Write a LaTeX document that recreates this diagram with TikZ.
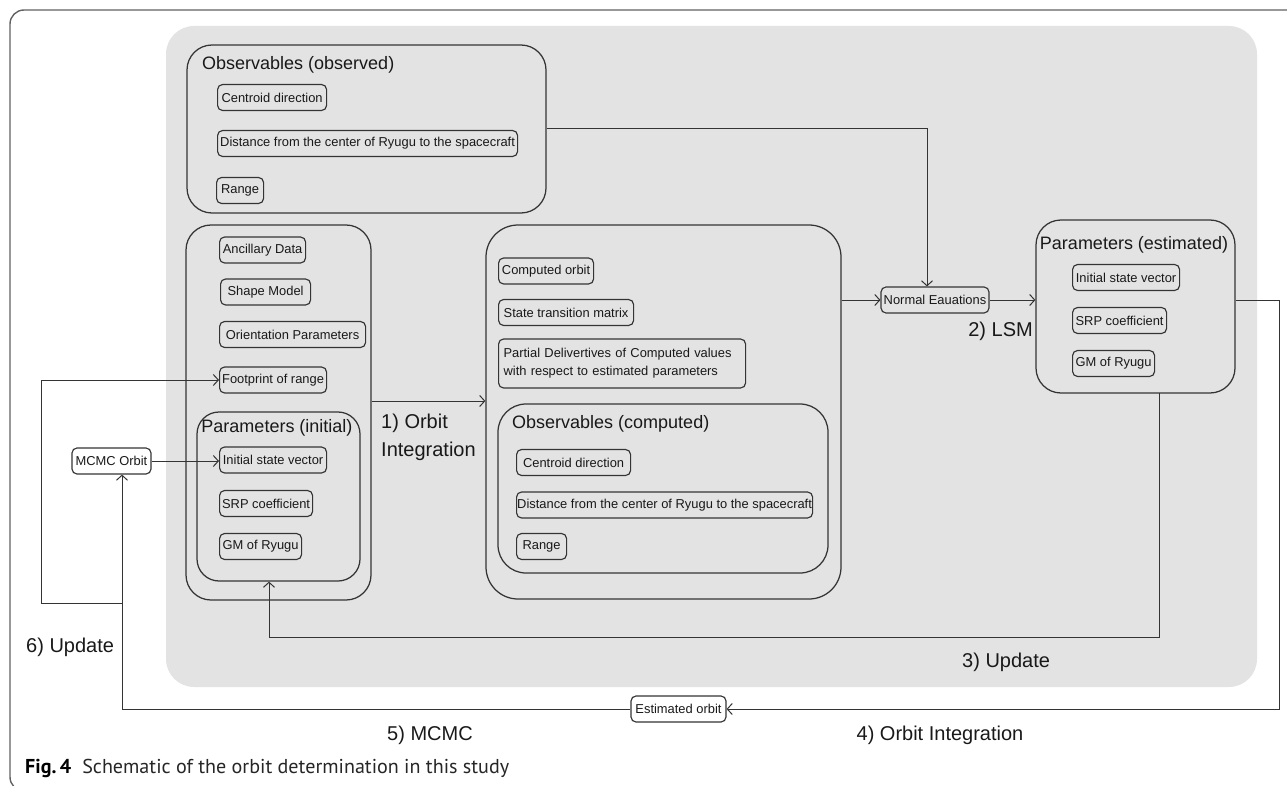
\documentclass[tikz,border=0pt]{standalone}
\usepackage{fontspec}
\setmainfont{Liberation Sans}
\newfontfamily\capfont{PT Sans}
\usetikzlibrary{arrows.meta}
\definecolor{bggrey}{RGB}{226,227,226}
\definecolor{lncol}{RGB}{52,52,52}
\definecolor{txtcol}{RGB}{25,25,25}
\begin{document}
\begin{tikzpicture}[x=1pt,y=-1pt,
 box/.style={draw=lncol, line width=1.15pt, rounded corners=5pt, anchor=west, minimum height=26pt, inner sep=0pt, font=\fontsize{12.9}{14}\selectfont, text=txtcol},
 cont/.style={draw=lncol, line width=1.25pt, inner sep=0pt},
 ttl/.style={font=\fontsize{18}{21}\selectfont, text=txtcol, inner sep=0pt},
 stp/.style={font=\fontsize{20}{28}\selectfont, text=txtcol, inner sep=0pt},
 arr/.style={draw=lncol, line width=1pt, -{Straight Barb[length=5pt,width=11pt]}},
 ln/.style={draw=lncol, line width=1pt}]
\useasboundingbox (0,0) rectangle (1287,786);
% frame
\draw[draw=black!62, line width=1.4pt, rounded corners=14pt] (1310,10) -- (10,10) -- (10,791) -- (1310,791);
% grey background
\fill[bggrey, rounded corners=28pt] (166,26) rectangle (1257,687);

% Observables (observed)
\node[cont, rounded corners=25pt, minimum width=359pt, minimum height=168pt] (obs) at (366.5,129) {};
\node[ttl, anchor=west] (obst) at (202,65) {Observables (observed)};
\node[box, minimum width=109pt] (cd1) at (217,97.5) {Centroid direction};
\node[box, minimum width=300pt] (ds1) at (217,143.5) {Distance from the center of Ryugu to the spacecraft};
\node[box, minimum width=47pt] (rg1) at (216,190.5) {Range};

% left column
\node[cont, rounded corners=25pt, minimum width=185pt, minimum height=375pt] (lcol) at (278.5,412.5) {};
\node[box, minimum width=86pt] (anc) at (219,250) {Ancillary Data};
\node[box, minimum width=90pt] (shp) at (220,292) {Shape Model};
\node[box, minimum width=146pt] (ori) at (219,334.5) {Orientation Parameters};
\node[box, minimum width=107pt] (fp) at (219,380) {Footprint of range};
\node[cont, rounded corners=22pt, minimum width=163pt, minimum height=169pt] (pinit) at (278.5,496.5) {};
\node[ttl] (pinitt) at (277,428) {Parameters (initial)};
\node[box, minimum width=107pt] (isv1) at (219,460) {Initial state vector};
\node[box, minimum width=93pt] (srp1) at (219,503.5) {SRP coefficient};
\node[box, minimum width=82pt] (gm1) at (219,546.5) {GM of Ryugu};

% MCMC orbit
\node[box, anchor=center, minimum width=79pt] (mcmc) at (111.5,461) {MCMC Orbit};

% middle column
\node[cont, rounded corners=32pt, minimum width=355pt, minimum height=374pt] (mid) at (663.5,412) {};
\node[box, minimum width=95pt] (co) at (498,271) {Computed orbit};
\node[box, minimum width=135pt] (stm) at (498,312.5) {State transition matrix};
\node[box, minimum height=49pt, text width=237pt, inner xsep=5pt, align=left, font=\fontsize{12.9}{18}\selectfont] (pd) at (498,363.5) {Partial Delivertives of Computed values\\with respect to estimated parameters};
\node[cont, rounded corners=28pt, minimum width=330pt, minimum height=169pt] (obsc) at (663,488.5) {};
\node[ttl, anchor=west] (obsct) at (512,424) {Observables (computed)};
\node[box, minimum width=114pt] (cd2) at (516,462.5) {Centroid direction};
\node[box, minimum width=296pt] (ds2) at (516,505) {Distance from the center of Ryugu to the spacecraft};
\node[box, minimum width=50pt] (rg2) at (516,546.5) {Range};

% normal equations
\node[box, anchor=center, minimum width=108pt] (ne) at (935,300) {Normal Eauations};

% estimated
\node[cont, rounded corners=25pt, minimum width=199pt, minimum height=173pt] (est) at (1135.5,306.5) {};
\node[ttl] (estt) at (1134,245) {Parameters (estimated)};
\node[box, minimum width=107pt] (isv2) at (1072,277.5) {Initial state vector};
\node[box, minimum width=94pt] (srp2) at (1072,320.5) {SRP coefficient};
\node[box, minimum width=82pt] (gm2) at (1072,363.5) {GM of Ryugu};

% estimated orbit
\node[box, anchor=center, minimum width=95pt, fill=white] (eo) at (678.5,709) {Estimated orbit};

% step labels
\node[stp, anchor=west, align=left] (s1) at (381,437) {1) Orbit\\Integration};
\node[stp, anchor=east] (s2) at (1033,331) {2) LSM};
\node[stp, anchor=west] (s3) at (962,662) {3) Update};
\node[stp] (s4) at (940,735) {4) Orbit Integration};
\node[stp] (s5) at (430,735) {5) MCMC};
\node[stp, anchor=west] (s6) at (26,647) {6) Update};

% caption
\node[anchor=west, inner sep=0pt] (cap) at (25,768) {\resizebox{484pt}{!}{\capfont\fontsize{18}{21}\selectfont\textbf{Fig.\,4}\hspace{0.55em}\color{black!85}Schematic of the orbit determination in this study}};

% connectors
\coordinate (na) at (927,0);
\draw[arr] (obs.east) -| (na |- ne.north);
\draw[arr] (mid.east |- ne.west) -- (ne.west);
\draw[arr] (ne.east) -- (est.west |- ne.east);
\coordinate (oi) at (0,401);
\draw[arr] (lcol.east |- oi) -- (mid.west |- oi);
\draw[arr] (mcmc.east) -- (isv1.west |- mcmc.east);
\coordinate (br) at (1279,709);
\draw[arr] (est.east |- ne.east) -| (br) -- (eo.east);
\coordinate (mu) at (122,709);
\draw[arr] (eo.west) -- (mu) -- (mu |- mcmc.south);
\coordinate (j1) at (122,603);
\coordinate (j2) at (41,603);
\draw[arr] (j1) -- (j2) |- (fp.west);
\coordinate (u1) at (1159,393);
\coordinate (u2) at (1159,637);
\coordinate (u3) at (269,637);
\draw[arr] (u1) -- (u2) -- (u3) -- (u3 |- pinit.south);
\end{tikzpicture}
\end{document}
